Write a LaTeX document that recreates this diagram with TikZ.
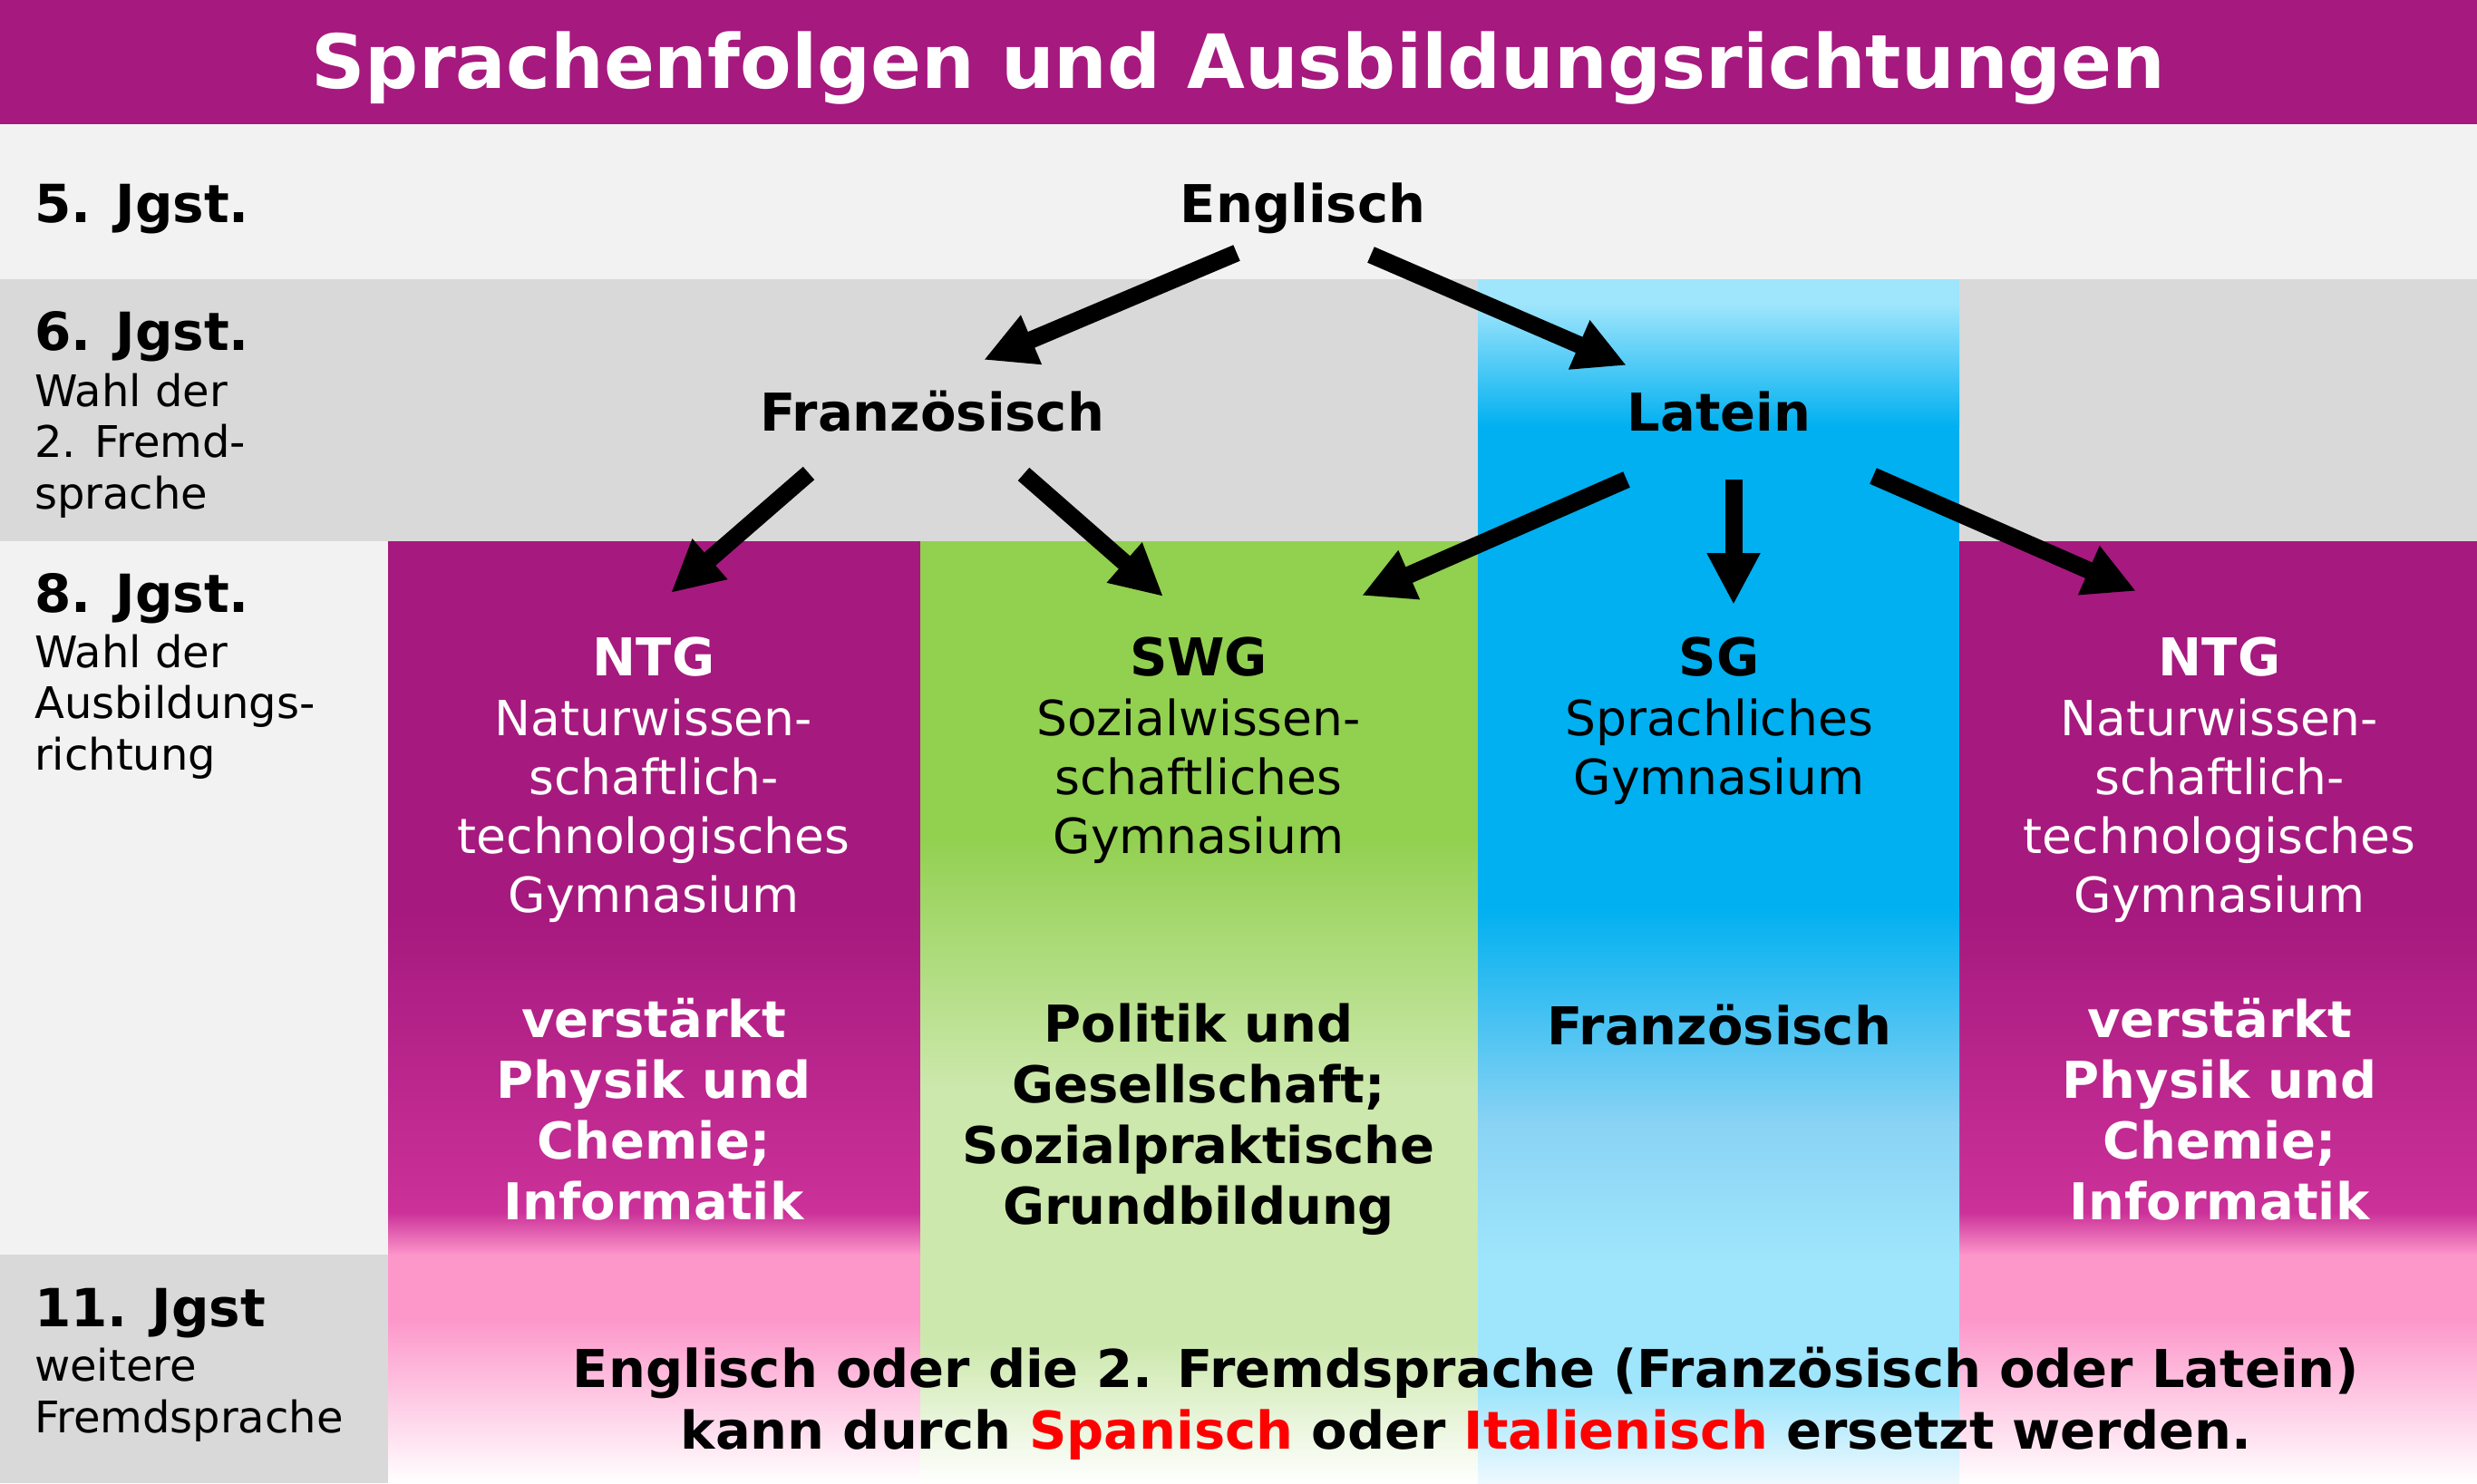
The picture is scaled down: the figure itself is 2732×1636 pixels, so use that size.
\documentclass[tikz,border=0pt]{standalone}
\usepackage{fontspec}
\setmainfont{DejaVu Sans}
\usetikzlibrary{arrows.meta}
\definecolor{cPurple}{HTML}{A6197E}
\definecolor{cMagenta}{HTML}{CB3199}
\definecolor{cPink}{HTML}{FD97CA}
\definecolor{cGreen}{HTML}{92D050}
\definecolor{cLGreen}{HTML}{CCE8AC}
\definecolor{cBlue}{HTML}{00B0F0}
\definecolor{cMBlue}{HTML}{8AD3F4}
\definecolor{cLBlue}{HTML}{9FE5FC}
\definecolor{cPaleBlue}{HTML}{EEF9FE}
\definecolor{cGrayA}{HTML}{F2F2F2}
\definecolor{cGrayB}{HTML}{D9D9D9}
\definecolor{cRed}{HTML}{FF0000}
\begin{document}
\begin{tikzpicture}[x=1pt,y=-1pt,
  flow/.style={line width=19pt,-{Triangle[length=57pt,width=55pt]}},
  lbl/.style={anchor=base west,inner sep=0pt,font=\fontsize{58}{58}\selectfont\bfseries},
  sub/.style={anchor=base west,inner sep=0pt,align=left,font=\fontsize{48}{56.5}\selectfont},
  lang/.style={anchor=base,inner sep=0pt,font=\fontsize{57.5}{60}\selectfont\bfseries},
  desc/.style={anchor=base,inner sep=0pt,align=center,font=\fontsize{53.5}{65}\selectfont},
  focus/.style={anchor=base,inner sep=0pt,align=center,font=\fontsize{56}{67}\selectfont\bfseries},
  note/.style={anchor=base,inner sep=0pt,align=center,font=\fontsize{57.5}{68}\selectfont\bfseries}
]
\useasboundingbox (0,0) rectangle (2732,1636);
% rows
\fill[cPurple] (0,0) rectangle (2732,137);
\fill[cGrayA] (0,137) rectangle (2732,308);
\fill[cGrayB] (0,308) rectangle (2732,597);
\fill[cGrayA] (0,597) rectangle (428,1384);
\fill[cGrayB] (0,1384) rectangle (428,1636);
% purple columns
\foreach \xa/\xb in {428/1015,2161/2732}{
  \fill[cPurple] (\xa,597) rectangle (\xb,1004);
  \shade[top color=cPurple,bottom color=cMagenta] (\xa,1003) rectangle (\xb,1338);
  \shade[top color=cMagenta,bottom color=cPink] (\xa,1337) rectangle (\xb,1385);
  \fill[cPink] (\xa,1384) rectangle (\xb,1456);
  \shade[top color=cPink,bottom color=white] (\xa,1455) rectangle (\xb,1636);
}
% green column
\fill[cGreen] (1015,597) rectangle (1630,924);
\shade[top color=cGreen,bottom color=cLGreen] (1015,923) rectangle (1630,1201);
\fill[cLGreen] (1015,1200) rectangle (1630,1481);
\shade[top color=cLGreen,bottom color=white] (1015,1480) rectangle (1630,1636);
% blue column
\fill[cLBlue] (1630,308) rectangle (2161,336);
\shade[top color=cLBlue,bottom color=cBlue] (1630,335) rectangle (2161,471);
\fill[cBlue] (1630,470) rectangle (2161,1001);
\shade[top color=cBlue,bottom color=cMBlue] (1630,1000) rectangle (2161,1241);
\shade[top color=cMBlue,bottom color=cLBlue] (1630,1240) rectangle (2161,1391);
\fill[cLBlue] (1630,1390) rectangle (2161,1536);
\shade[top color=cLBlue,bottom color=cPaleBlue] (1630,1535) rectangle (2161,1636);
% title
\node[anchor=base,inner sep=0pt,text=white,font=\fontsize{82.5}{90}\selectfont\bfseries] (title) at (1366,97) {Sprachenfolgen und Ausbildungsrichtungen};
% left labels (multi-line nodes: base = baseline of last line)
\node[lbl] (j5) at (38,245) {5. Jgst.};
\node[lbl] (j6) at (38,386) {6. Jgst.};
\node[sub] (j6t) at (38,561) {Wahl der\\2. Fremd-\\sprache};
\node[lbl] (j8) at (38,675) {8. Jgst.};
\node[sub] (j8t) at (38,849) {Wahl der\\Ausbildungs-\\richtung};
\node[lbl] (j11) at (38,1463) {11. Jgst};
\node[sub] (j11t) at (38,1580) {weitere\\Fremdsprache};
% languages
\node[lang] (eng) at (1437,245) {Englisch};
\node[lang] (fra) at (1028,475) {Französisch};
\node[lang] (lat) at (1896,475) {Latein};
% columns
\node[lang,text=white] (ntga) at (721,745) {NTG};
\node[desc,text=white] (ntgad) at (721,1006) {Naturwissen-\\schaftlich-\\technologisches\\Gymnasium};
\node[focus,text=white] (ntgaf) at (721,1345) {verstärkt\\Physik und\\Chemie;\\Informatik};
\node[lang] (swg) at (1322,745) {SWG};
\node[desc] (swgd) at (1322,941) {Sozialwissen-\\schaftliches\\Gymnasium};
\node[focus] (swgf) at (1322,1350) {Politik und\\Gesellschaft;\\Sozialpraktische\\Grundbildung};
\node[lang] (sg) at (1896,745) {SG};
\node[desc] (sgd) at (1896,876) {Sprachliches\\Gymnasium};
\node[lang] (sgf) at (1896,1152) {Französisch};
\node[lang,text=white] (ntgb) at (2448,745) {NTG};
\node[desc,text=white] (ntgbd) at (2448,1006) {Naturwissen-\\schaftlich-\\technologisches\\Gymnasium};
\node[focus,text=white] (ntgbf) at (2448,1345) {verstärkt\\Physik und\\Chemie;\\Informatik};
% bottom note
\node[note] (remark) at (1617,1598) {Englisch oder die 2. Fremdsprache (Französisch oder Latein)\\kann durch \textcolor{cRed}{Spanisch} oder \textcolor{cRed}{Italienisch} ersetzt werden.};
% arrow end points
\coordinate (eA) at (1364,279);
\coordinate (eB) at (1512,281);
\coordinate (fraIn) at (1085,397);
\coordinate (latIn) at (1794,403);
\coordinate (fA) at (892,522);
\coordinate (fB) at (1129,523);
\coordinate (ntgaIn) at (740,654);
\coordinate (swgInA) at (1283,658);
\coordinate (lA) at (1794,529);
\coordinate (lB) at (1912,529);
\coordinate (lC) at (2066,525);
\coordinate (swgInB) at (1502,657);
\coordinate (sgIn) at (1912,667);
\coordinate (ntgbIn) at (2356,652);
% arrows
\draw[flow] (eA) -- (fraIn);
\draw[flow] (eB) -- (latIn);
\draw[flow] (fA) -- (ntgaIn);
\draw[flow] (fB) -- (swgInA);
\draw[flow] (lA) -- (swgInB);
\draw[flow] (lB) -- (sgIn);
\draw[flow] (lC) -- (ntgbIn);
\end{tikzpicture}
\end{document}
